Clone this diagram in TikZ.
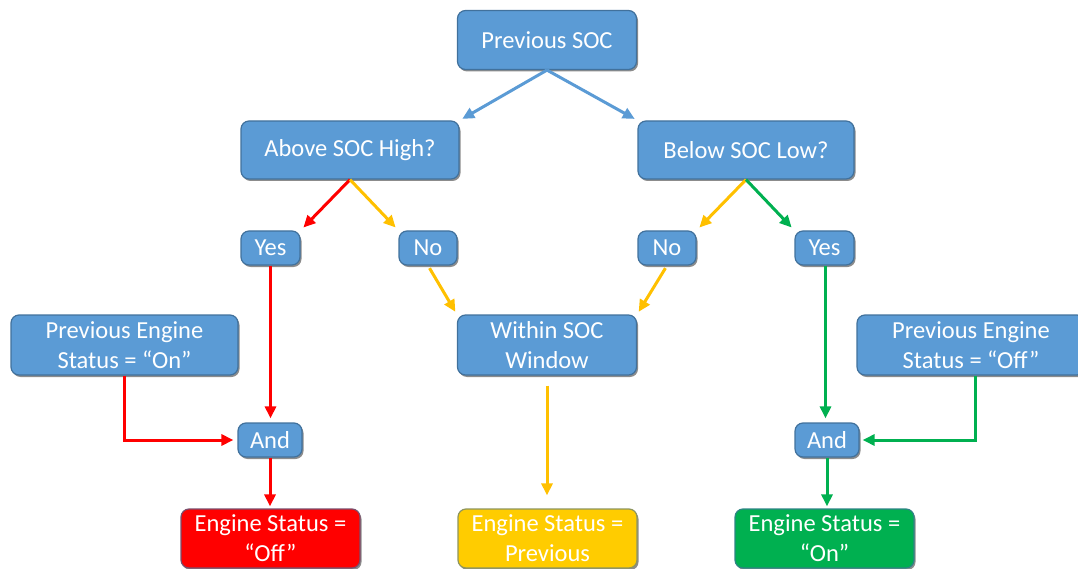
\documentclass[tikz,border=0pt]{standalone}
\usepackage{fontspec}
\setmainfont{Carlito}
\usetikzlibrary{arrows.meta,shadows}
\definecolor{boxblue}{HTML}{5B9BD5}
\definecolor{boxedge}{HTML}{41719C}
\definecolor{flowblue}{HTML}{5B9BD5}
\definecolor{flowred}{HTML}{FF0000}
\definecolor{flowyellow}{HTML}{FFC000}
\definecolor{flowgreen}{HTML}{00B050}
\definecolor{boxyellow}{HTML}{FFCC00}
\tikzset{
  box/.style={rounded corners=8pt, draw=boxedge, line width=1.2pt, fill=boxblue,
    text=white, font=\fontsize{24.5}{30}\selectfont, align=center, inner sep=0pt,
    drop shadow={shadow xshift=1.5pt, shadow yshift=-2pt, opacity=0.45, fill=black}},
  arr/.style={line width=3pt, -{Triangle[length=12pt,width=11pt]}},
}
\begin{document}
\begin{tikzpicture}[x=1pt,y=-1pt]
\useasboundingbox (0,0) rectangle (1078,569);

% decision tree
\node[box, minimum width=179pt, minimum height=59pt] (prev) at (547,40) {Previous SOC};
\node[box, minimum width=218pt, minimum height=58pt] (above) at (350,150) {Above SOC High?};
\node[box, minimum width=216pt, minimum height=58pt] (below) at (746,150) {Below SOC Low?};
\node[box, minimum width=59pt, minimum height=34pt] (yesl) at (270.5,248) {Yes};
\node[box, minimum width=58pt, minimum height=34pt] (nol) at (428,248) {No};
\node[box, minimum width=58pt, minimum height=34pt] (nor) at (667,248) {No};
\node[box, minimum width=59pt, minimum height=34pt] (yesr) at (824.5,248) {Yes};
\node[box, minimum width=227pt, minimum height=60pt] (pon) at (124.5,345) {Previous Engine\\Status = “On”};
\node[box, minimum width=179pt, minimum height=60pt] (within) at (547,345) {Within SOC\\Window};
\node[box, minimum width=228pt, minimum height=60pt] (poff) at (971,345) {Previous Engine\\Status = “Off”};
\node[box, minimum width=64pt, minimum height=34pt] (andl) at (270,440) {And};
\node[box, minimum width=64pt, minimum height=34pt] (andr) at (827,440) {And};

% outcomes
\node[box, fill=flowred, draw=boxedge!70!flowred, minimum width=179pt, minimum height=59pt] (eoff) at (270.5,538.5) {Engine Status =\\“Off”};
\node[box, fill=boxyellow, draw=boxedge!60!boxyellow, minimum width=179pt, minimum height=59pt] (eprev) at (547.5,538.5) {Engine Status =\\Previous};
\node[box, fill=flowgreen, draw=boxedge!70!flowgreen, minimum width=179pt, minimum height=59pt] (eon) at (824.5,538.5) {Engine Status =\\“On”};

% connectors
\draw[arr, flowblue, shorten >=3pt] (prev.south) -- (above.north east);
\draw[arr, flowblue, shorten >=3pt] (prev.south) -- (below.north west);
\draw[arr, flowred, shorten >=4pt] (above.south) -- (yesl.north east);
\draw[arr, flowyellow, shorten >=4pt] (above.south) -- (nol.north west);
\draw[arr, flowyellow, shorten >=4pt] (below.south) -- (nor.north east);
\draw[arr, flowgreen, shorten >=4pt] (below.south) -- (yesr.north west);
\draw[arr, flowred, shorten >=4pt] (yesl.south) -- (yesl.south |- andl.north);
\draw[arr, flowgreen, shorten >=4pt] ([xshift=1pt]yesr.south) -- ([xshift=1pt]yesr.south |- andr.north);
\draw[arr, flowyellow, shorten <=3pt, shorten >=3pt] (nol.south) -- (within.north west);
\draw[arr, flowyellow, shorten <=3pt, shorten >=3pt] (nor.south) -- (within.north east);
\draw[arr, flowred, shorten >=4pt] (pon.south) |- (andl.west);
\draw[arr, flowgreen, shorten >=3pt] ([xshift=4pt]poff.south) |- (andr.east);
\draw[arr, flowred, shorten >=2pt] (andl.south) -- (andl.south |- eoff.north);
\draw[arr, flowgreen, shorten >=2pt] (andr.south) -- (andr.south |- eon.north);
\draw[arr, flowyellow, shorten <=10pt, shorten >=13pt] (within.south) -- (within.south |- eprev.north);
\end{tikzpicture}
\end{document}
